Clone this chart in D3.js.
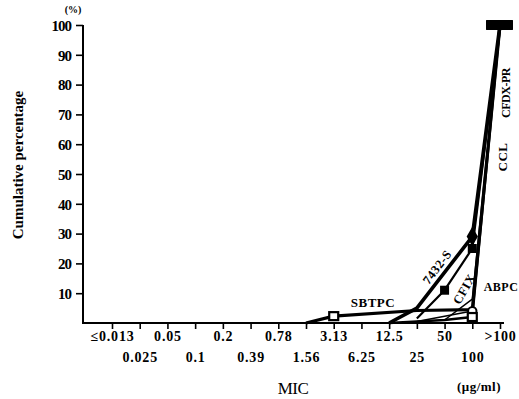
<!DOCTYPE html>
<html>
<head>
<meta charset="utf-8">
<script src="https://cdn.jsdelivr.net/npm/d3@7"></script>
<style>
  html, body { margin: 0; padding: 0; background: #fff; }
  svg { display: block; }
  text { font-family: "Liberation Serif", "DejaVu Serif", serif; font-weight: bold; fill: #000; }
</style>
</head>
<body>
<svg id="chart" width="519" height="399"></svg>
<script>
// MIC categories (µg/ml) along the x axis
const categories = ["≤0.013", "0.025", "0.05", "0.1", "0.2", "0.39", "0.78",
                    "1.56", "3.13", "6.25", "12.5", "25", "50", "100", ">100"];
const yTicks = [10, 20, 30, 40, 50, 60, 70, 80, 90, 100];

// Cumulative percentage of strains inhibited at each MIC (null = no point)
const sbtpc  = [null, null, null, null, null, null, null, 0, 2.3, null, null, 4.2, null, 4.5, 100];
const s7432  = [null, null, null, null, null, null, null, null, null, null, 0, 5, null, 29, 100];
const cfix   = [null, null, null, null, null, null, null, null, null, null, null, 1.5, 11, 25, 100];
const abpc   = [null, null, null, null, null, null, null, null, null, null, null, null, 1, 8, 100];
const ccl    = [null, null, null, null, null, null, null, null, null, null, null, 0.5, null, 4, 100];
const cfdxpr = [null, null, null, null, null, null, null, null, null, null, 0, null, 1, 2, 100];

const series = [
  { name: "SBTPC",   values: sbtpc,  width: 3.2, marks: { 8: "openSquare" } },
  { name: "7432-S",  values: s7432,  width: 3.6, marks: { 13: "diamond" } },
  { name: "CFIX",    values: cfix,   width: 2.2, marks: { 12: "square", 13: "square" } },
  { name: "ABPC",    values: abpc,   width: 1.5, marks: {} },
  { name: "CCL",     values: ccl,    width: 1.6, marks: { 13: "openCircle" } },
  { name: "CFDX-PR", values: cfdxpr, width: 2.4, marks: { 13: "openSquare" } }
];

const svg = d3.select("#chart");
const x = d3.scalePoint().domain(categories).range([112, 500]);
const y = d3.scaleLinear().domain([0, 100]).range([323, 25]);
const x0 = 83;

// Axes
const axisG = svg.append("g");
axisG.append("line").attr("x1", x0).attr("x2", x0).attr("y1", y(100)).attr("y2", y(0) + 1)
  .attr("stroke", "#000").attr("stroke-width", 2);
axisG.append("line").attr("x1", x0).attr("x2", x(">100") + 4).attr("y1", y(0)).attr("y2", y(0))
  .attr("stroke", "#000").attr("stroke-width", 2);

// y ticks and labels
const yAxis = d3.axisLeft(y).tickValues(yTicks).tickSize(7).tickFormat(d3.format("d"));
const yg = svg.append("g").attr("transform", `translate(${x0},0)`).call(yAxis);
yg.select(".domain").remove();
yg.selectAll(".tick line").attr("stroke", "#000").attr("stroke-width", 1.6);
yg.selectAll(".tick text").attr("x", -12).attr("dy", "0.35em")
  .style("font-size", "15px").style("letter-spacing", "-1px")
  .style("font-family", "'Liberation Serif', serif").style("font-weight", "bold");

// x ticks with labels staggered over two rows
const xAxis = d3.axisBottom(x).tickSize(6).tickFormat(d => d);
const xg = svg.append("g").attr("transform", `translate(0,${y(0)})`).call(xAxis);
xg.select(".domain").remove();
xg.selectAll(".tick line").attr("stroke", "#000").attr("stroke-width", 1.6);
xg.selectAll(".tick text")
  .attr("y", (d, i) => i % 2 === 0 ? 13 : 34)
  .attr("dy", "0.35em")
  .style("font-size", "14px").style("letter-spacing", "0.8px")
  .style("font-family", "'Liberation Serif', serif").style("font-weight", "bold");

// Series lines
const line = d3.line().x(d => x(d.c)).y(d => y(d.v));
series.forEach(s => {
  const pts = s.values.map((v, i) => ({ c: categories[i], v, i })).filter(d => d.v !== null);
  svg.append("path").datum(pts).attr("d", line)
    .attr("fill", "none").attr("stroke", "#000")
    .attr("stroke-width", s.width).attr("stroke-linejoin", "round");
  s.pts = pts;
});

// Markers
series.forEach(s => {
  s.pts.forEach(d => {
    const type = s.marks[d.i];
    const cx = x(d.c), cy = y(d.v);
    if (type === "openSquare") {
      svg.append("rect").attr("x", cx - 4.5).attr("y", cy - 4).attr("width", 9).attr("height", 8)
        .attr("fill", "#fff").attr("stroke", "#000").attr("stroke-width", 2.2);
    } else if (type === "square") {
      svg.append("rect").attr("x", cx - 4.5).attr("y", cy - 4.5).attr("width", 9).attr("height", 9)
        .attr("fill", "#000");
    } else if (type === "diamond") {
      svg.append("path").attr("d", d3.symbol(d3.symbolDiamond, 110)())
        .attr("transform", `translate(${cx},${cy})`).attr("fill", "#000");
    } else if (type === "openCircle") {
      svg.append("circle").attr("cx", cx).attr("cy", cy).attr("r", 4.2)
        .attr("fill", "#fff").attr("stroke", "#000").attr("stroke-width", 2);
    }
  });
  // common cap where every curve reaches 100 %
  const last = s.pts[s.pts.length - 1];
  svg.append("rect").attr("x", x(last.c) - 14).attr("y", y(last.v) - 5)
    .attr("width", 27).attr("height", 10).attr("rx", 2).attr("fill", "#000");
});

// Series labels
const lab = (t, px, py, rot, size) => svg.append("text")
  .attr("transform", `translate(${px},${py}) rotate(${rot})`)
  .attr("text-anchor", "middle").attr("dy", "0.35em")
  .style("font-size", size + "px").style("letter-spacing", "0.5px").text(t);
lab("SBTPC", 373, 302, 0, 13);
lab("7432-S", 437, 267, -53, 12.5);
lab("CFIX", 464, 289, -60, 12.5);
lab("ABPC", 501, 287, 0, 12);
lab("CCL", 502, 157, -90, 13);
lab("CFDX-PR", 506, 93, -90, 12).style("letter-spacing", "-0.5px");

// Axis titles
svg.append("text").attr("x", 73).attr("y", 13).attr("text-anchor", "middle")
  .style("font-size", "10px").text("(%)");
svg.append("text").attr("transform", "translate(18,165) rotate(-90)")
  .attr("text-anchor", "middle").attr("dy", "0.35em")
  .style("font-size", "15px").text("Cumulative percentage");
svg.append("text").attr("x", 293).attr("y", 388).attr("text-anchor", "middle").attr("dy", "0.35em")
  .style("font-size", "17px").style("font-weight", "normal").style("letter-spacing", "-0.5px").text("MIC");
svg.append("text").attr("x", 479).attr("y", 386).attr("text-anchor", "middle").attr("dy", "0.35em")
  .style("font-size", "13px").style("letter-spacing", "0.5px").text("(μg/ml)");
</script>
</body>
</html>
